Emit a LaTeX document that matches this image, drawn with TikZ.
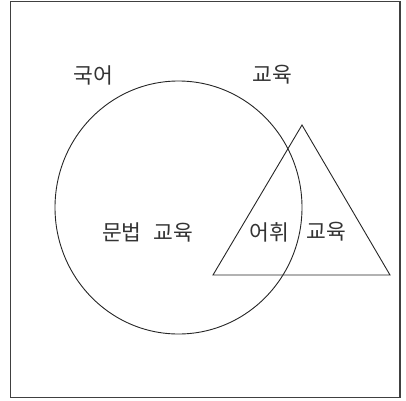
\documentclass[tikz,border=0pt]{standalone}
\usepackage{fontspec}
\newfontfamily\kr{Noto Sans CJK KR}
\begin{document}
\begin{tikzpicture}[x=1pt,y=-1pt,
  shape line/.style={line width=0.9pt, draw=black!85},
  label text/.style={font=\kr\fontsize{21.5}{24}\selectfont, text=black!80, inner sep=0pt, anchor=center}]
\useasboundingbox (0,0) rectangle (406,400);
\draw[line width=1.4pt, draw=black!75] (10.5,1.5) rectangle (400,397.5);
\draw[shape line] (178.5,207.5) ellipse [x radius=123.5, y radius=126.5];
\coordinate (apex) at (302,125);
\coordinate (bl) at (213,275);
\coordinate (br) at (390,275);
\draw[shape line] (apex) -- (bl) -- (br) -- cycle;
\node[label text] (t1) at (93,75) {국어};
\node[label text] (t2) at (272,75) {교육};
\node[label text] (t3) at (147.5,232) {문법\hspace{0.55em}교육};
\node[label text] (t4) at (269,232) {어휘};
\node[label text] (t5) at (326.5,232) {교육};
\end{tikzpicture}
\end{document}
